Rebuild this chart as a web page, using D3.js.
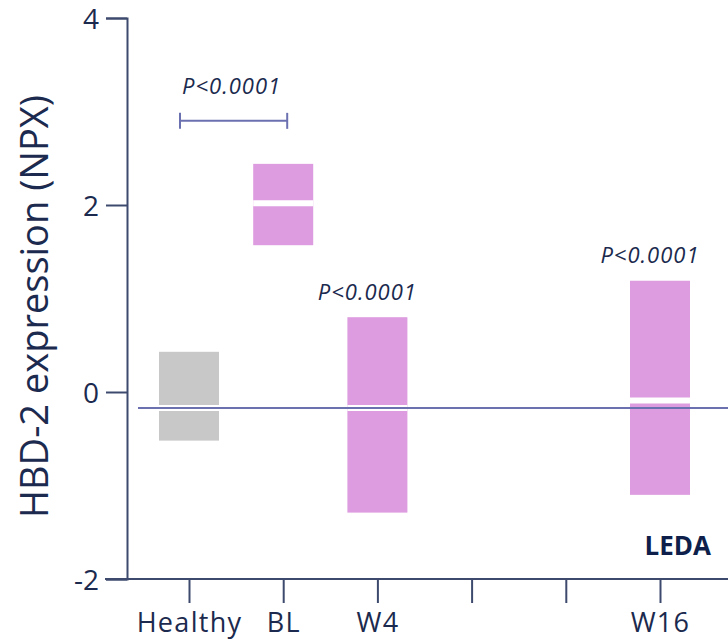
<!DOCTYPE html>
<html>
<head>
<meta charset="utf-8">
<script src="https://cdn.jsdelivr.net/npm/d3@7"></script>
<style>
  html, body { margin: 0; padding: 0; background: #fff; }
  svg { display: block; font-family: "Open Sans", "DejaVu Sans", sans-serif; }
</style>
</head>
<body>
<svg id="chart" width="728" height="644"></svg>
<script>
// Visit positions along the x axis and the labels shown under the ticks
const categories = ["Healthy", "BL", "W4", "W8", "W12", "W16"];
const tickLabels = ["Healthy", "BL", "W4", "", "", "W16"];

// Floating boxes: upper / lower bound and median (NPX)
const groups = ["Healthy", "BL", "W4", "W16"];
const upper  = [0.43, 2.44, 0.80, 1.19];
const lower  = [-0.52, 1.57, -1.29, -1.10];
const median = [-0.17, 2.02, -0.17, -0.09];
const boxColors = ["#c8c8c8", "#dd9cdf", "#dd9cdf", "#dd9cdf"];

// Healthy median reference line
const referenceValue = -0.17;

// Y axis ticks
const yTicks = [-2, 0, 2, 4];

// Significance annotations
const pLabels = [
  { text: "P<0.0001", group: "Healthy", to: "BL", value: 2.9, bracket: true },
  { text: "P<0.0001", group: "W4", value: 0.98, bracket: false },
  { text: "P<0.0001", group: "W16", value: 1.38, bracket: false }
];

const ink = "#1b2a4e";
const axisColor = "#3d4a6e";
const lineColor = "#6b70b0";

const svg = d3.select("#chart");

const y = d3.scaleLinear().domain([-2, 4]).range([579, 18]);
const x = d3.scalePoint().domain(categories).range([189, 660]);
const boxW = 60;

// Y axis
const yAxis = svg.append("g")
  .attr("transform", "translate(127,0)")
  .call(d3.axisLeft(y).tickValues(yTicks).tickSize(21).tickPadding(7).tickFormat(d => String(d)));
yAxis.selectAll("path.domain").attr("stroke", axisColor).attr("stroke-width", 2);
yAxis.selectAll(".tick line").attr("stroke", axisColor).attr("stroke-width", 2);
yAxis.selectAll(".tick text")
  .attr("fill", ink).attr("font-size", 28).attr("font-family", "Open Sans, sans-serif")
  .attr("x", -28)
  .attr("dy", "0.36em");

// X axis
svg.append("line")
  .attr("x1", 105).attr("x2", 728)
  .attr("y1", y(-2)).attr("y2", y(-2))
  .attr("stroke", axisColor).attr("stroke-width", 2);
const xAxis = svg.append("g")
  .attr("transform", `translate(0,${y(-2)})`)
  .call(d3.axisBottom(x).tickSize(24).tickPadding(10)
    .tickFormat((d, i) => tickLabels[i]));
xAxis.select("path.domain").remove();
xAxis.selectAll(".tick line").attr("stroke", axisColor).attr("stroke-width", 2);
xAxis.selectAll(".tick text")
  .attr("fill", ink).attr("font-size", 27).attr("letter-spacing", 1.3)
  .attr("font-family", "Open Sans, sans-serif");

// Y axis title
svg.append("text")
  .attr("transform", `translate(48,${(y(4) + y(-2)) / 2 + 8}) rotate(-90)`)
  .attr("text-anchor", "middle")
  .attr("fill", ink)
  .attr("font-size", 38)
  .text("HBD-2 expression (NPX)");

// Boxes
const boxes = svg.append("g");
groups.forEach((g, i) => {
  const cx = x(g);
  boxes.append("rect")
    .attr("x", cx - boxW / 2)
    .attr("y", y(upper[i]))
    .attr("width", boxW)
    .attr("height", y(lower[i]) - y(upper[i]))
    .attr("fill", boxColors[i]);
  // median as a white gap through the box
  boxes.append("line")
    .attr("x1", cx - boxW / 2).attr("x2", cx + boxW / 2)
    .attr("y1", y(median[i])).attr("y2", y(median[i]))
    .attr("stroke", "#fff").attr("stroke-width", 6);
});

// Reference line at the healthy median
svg.append("line")
  .attr("x1", 138).attr("x2", 728)
  .attr("y1", y(referenceValue)).attr("y2", y(referenceValue))
  .attr("stroke", lineColor).attr("stroke-width", 2);

// P-value annotations
const pText = (px, py, t) => svg.append("text")
  .attr("x", px).attr("y", py)
  .attr("text-anchor", "middle").attr("fill", ink)
  .attr("font-size", 22).attr("font-style", "italic").attr("letter-spacing", 1)
  .text(t);

pLabels.forEach(p => {
  if (p.bracket) {
    const x1 = x(p.group) - 9, x2 = x(p.to) + 4;
    const by = y(p.value);
    const b = svg.append("g").attr("stroke", lineColor).attr("stroke-width", 2);
    b.append("line").attr("x1", x1).attr("x2", x2).attr("y1", by).attr("y2", by);
    b.append("line").attr("x1", x1).attr("x2", x1).attr("y1", by - 8).attr("y2", by + 8);
    b.append("line").attr("x1", x2).attr("x2", x2).attr("y1", by - 8).attr("y2", by + 8);
    pText((x1 + x2) / 2 - 2, by - 27, p.text);
  } else {
    pText(x(p.group) - 10, y(p.value), p.text);
  }
});

// Cohort label
svg.append("text")
  .attr("x", 711).attr("y", 555)
  .attr("text-anchor", "end")
  .attr("fill", "#0d1f4a")
  .attr("font-size", 26).attr("font-weight", "bold")
  .text("LEDA");
</script>
</body>
</html>
